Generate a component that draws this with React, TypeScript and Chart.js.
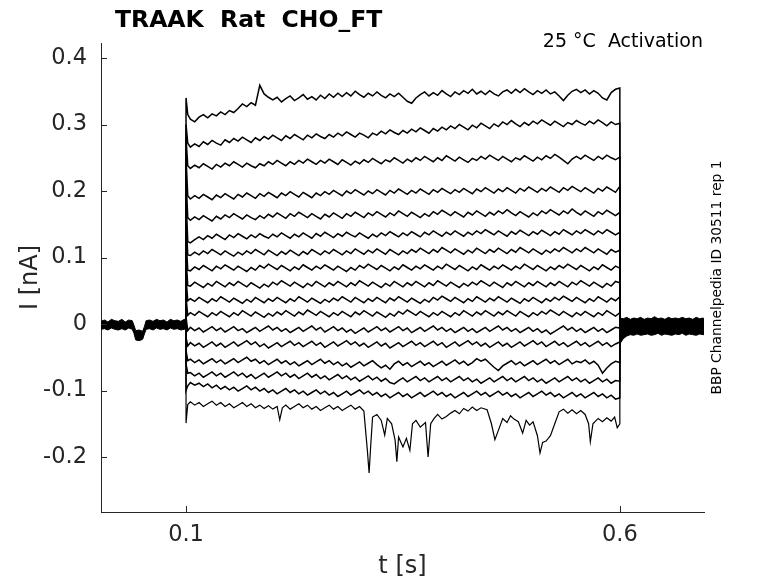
import { useEffect, useRef } from "react";
import { Chart, registerables } from "chart.js";

Chart.register(...registerables);

const FONT = '"DejaVu Sans", "Liberation Sans", sans-serif';

// ---- axis ticks ----
const xTickValues = [0.1, 0.6];
const yTickValues = [-0.2, -0.1, 0, 0.1, 0.2, 0.3, 0.4];

// ---- time base of the voltage step (s): onset, 0.102, then 0.105 ... 0.6 ----
const pulseTimes = [
  0.1, 0.102,
  0.105, 0.11, 0.115, 0.12, 0.125, 0.13, 0.135, 0.14, 0.145, 0.15,
  0.155, 0.16, 0.165, 0.17, 0.175, 0.18, 0.185, 0.19, 0.195, 0.2,
  0.205, 0.21, 0.215, 0.22, 0.225, 0.23, 0.235, 0.24, 0.245, 0.25,
  0.255, 0.26, 0.265, 0.27, 0.275, 0.28, 0.285, 0.29, 0.295, 0.3,
  0.305, 0.31, 0.315, 0.32, 0.325, 0.33, 0.335, 0.34, 0.345, 0.35,
  0.355, 0.36, 0.365, 0.37, 0.375, 0.38, 0.385, 0.39, 0.395, 0.4,
  0.405, 0.41, 0.415, 0.42, 0.425, 0.43, 0.435, 0.44, 0.445, 0.45,
  0.455, 0.46, 0.465, 0.47, 0.475, 0.48, 0.485, 0.49, 0.495, 0.5,
  0.505, 0.51, 0.515, 0.52, 0.525, 0.53, 0.535, 0.54, 0.545, 0.55,
  0.555, 0.56, 0.565, 0.57, 0.575, 0.58, 0.585, 0.59, 0.595, 0.6,
];

// ---- current traces during the step (pA), same layout as pulseTimes ----
const trace01 = [340, 315,
  308, 304, 311, 315, 310, 316, 313, 319, 315, 321,
  318, 324, 331, 327, 333, 329, 359, 346, 341, 337,
  341, 334, 339, 343, 336, 340, 345, 338, 342, 337,
  344, 339, 346, 341, 347, 342, 348, 343, 350, 345,
  341, 347, 343, 349, 344, 340, 346, 342, 347, 341,
  335, 332, 340, 345, 349, 343, 348, 344, 351, 346,
  342, 349, 345, 351, 347, 353, 346, 350, 345, 351,
  346, 343, 349, 352, 347, 353, 348, 354, 349, 345,
  351, 347, 352, 346, 349, 343, 336, 344, 350, 353,
  348, 352, 346, 351, 347, 340, 337, 348, 353, 355];
const trace02 = [300, 272,
  266, 271, 267, 274, 270, 276, 272, 269, 277, 273,
  279, 275, 281, 277, 273, 280, 276, 282, 278, 284,
  280, 276, 283, 279, 285, 281, 277, 284, 280, 286,
  282, 279, 285, 281, 287, 283, 289, 285, 281, 287,
  284, 280, 287, 284, 290, 286, 292, 288, 285, 291,
  287, 293, 289, 295, 291, 287, 294, 290, 296, 292,
  298, 294, 300, 296, 292, 299, 295, 302, 298, 294,
  301, 297, 304, 300, 306, 301, 297, 303, 299, 305,
  301, 307, 303, 299, 305, 301, 297, 303, 300, 306,
  302, 299, 305, 301, 307, 303, 298, 304, 300, 302];
const trace03 = [280, 238,
  234, 239, 235, 241, 237, 233, 240, 236, 242, 238,
  244, 240, 236, 242, 238, 235, 241, 238, 244, 240,
  246, 242, 238, 244, 240, 246, 242, 248, 244, 240,
  246, 242, 248, 244, 240, 247, 243, 239, 245, 241,
  247, 243, 249, 245, 241, 247, 244, 250, 246, 242,
  248, 244, 250, 246, 252, 248, 244, 250, 246, 253,
  249, 245, 251, 247, 243, 249, 246, 252, 248, 254,
  250, 246, 252, 248, 244, 250, 247, 253, 249, 245,
  251, 247, 253, 249, 255, 251, 246, 241, 248, 252,
  248, 254, 250, 246, 252, 248, 254, 250, 247, 251];
const trace04 = [250, 193,
  188, 193, 189, 195, 191, 187, 194, 190, 196, 192,
  188, 195, 191, 197, 193, 189, 196, 192, 198, 194,
  190, 197, 193, 199, 195, 191, 198, 194, 190, 197,
  193, 199, 195, 201, 197, 193, 200, 196, 202, 198,
  194, 200, 196, 202, 198, 194, 201, 197, 203, 199,
  195, 201, 197, 203, 199, 195, 202, 198, 204, 200,
  196, 202, 198, 204, 200, 196, 203, 199, 205, 201,
  197, 203, 199, 205, 201, 197, 204, 200, 206, 202,
  198, 204, 200, 206, 202, 198, 205, 201, 207, 203,
  199, 205, 201, 197, 204, 200, 206, 202, 198, 207];
const trace05 = [220, 160,
  156, 161, 157, 163, 159, 155, 162, 158, 164, 160,
  166, 162, 158, 164, 160, 157, 163, 159, 165, 161,
  167, 163, 159, 166, 162, 168, 164, 160, 166, 162,
  158, 165, 161, 167, 163, 159, 166, 162, 168, 164,
  160, 167, 163, 169, 165, 161, 167, 163, 170, 166,
  162, 168, 164, 160, 166, 162, 169, 165, 171, 167,
  163, 169, 165, 161, 168, 164, 170, 166, 162, 168,
  164, 170, 166, 172, 167, 163, 169, 165, 161, 167,
  163, 170, 166, 172, 168, 164, 170, 166, 173, 168,
  164, 170, 166, 162, 169, 165, 171, 167, 163, 168];
const trace06 = [190, 124,
  122, 127, 131, 127, 133, 129, 135, 131, 127, 134,
  130, 136, 132, 128, 134, 130, 136, 132, 129, 135,
  131, 137, 133, 129, 135, 131, 137, 133, 129, 136,
  132, 138, 134, 130, 136, 132, 138, 134, 131, 137,
  133, 129, 135, 131, 137, 133, 139, 135, 131, 137,
  133, 139, 135, 131, 138, 134, 140, 136, 132, 138,
  134, 140, 136, 132, 138, 134, 140, 136, 142, 138,
  134, 140, 136, 132, 139, 135, 141, 137, 133, 139,
  135, 141, 137, 133, 139, 135, 142, 138, 134, 140,
  136, 142, 138, 134, 140, 136, 142, 138, 134, 138];
const trace07 = [160, 104,
  103, 108, 104, 110, 106, 112, 108, 104, 110, 106,
  102, 108, 104, 110, 106, 112, 108, 104, 111, 107,
  103, 109, 105, 111, 107, 103, 109, 105, 112, 108,
  104, 110, 106, 112, 108, 104, 110, 106, 113, 109,
  105, 111, 107, 113, 109, 105, 112, 108, 104, 110,
  106, 112, 108, 114, 110, 106, 112, 108, 115, 111,
  107, 113, 109, 105, 111, 107, 114, 110, 106, 112,
  108, 114, 110, 106, 112, 108, 115, 111, 107, 113,
  109, 105, 111, 107, 113, 109, 115, 111, 107, 113,
  109, 115, 111, 107, 113, 109, 105, 112, 108, 111];
const trace08 = [130, 81,
  80, 86, 82, 88, 84, 80, 87, 83, 89, 85,
  81, 87, 83, 79, 85, 81, 88, 84, 90, 86,
  82, 88, 84, 80, 86, 82, 89, 85, 81, 87,
  83, 89, 85, 81, 87, 83, 79, 85, 81, 88,
  84, 90, 86, 82, 88, 84, 80, 86, 82, 89,
  85, 81, 87, 83, 89, 85, 81, 87, 83, 90,
  86, 82, 88, 84, 80, 86, 82, 89, 85, 81,
  87, 83, 89, 85, 81, 87, 83, 90, 86, 82,
  88, 84, 80, 86, 82, 88, 84, 90, 86, 82,
  88, 84, 80, 86, 82, 89, 85, 81, 87, 84];
const trace09 = [100, 58,
  57, 63, 59, 55, 61, 57, 64, 60, 56, 62,
  58, 64, 60, 56, 62, 58, 54, 60, 56, 63,
  59, 65, 61, 57, 63, 59, 55, 61, 57, 64,
  60, 56, 62, 58, 64, 60, 56, 62, 58, 65,
  61, 57, 63, 59, 55, 61, 57, 64, 60, 56,
  62, 58, 64, 60, 56, 62, 58, 65, 61, 57,
  63, 59, 55, 61, 57, 63, 59, 65, 61, 57,
  63, 59, 55, 62, 58, 64, 60, 56, 62, 58,
  64, 60, 56, 62, 58, 64, 60, 56, 63, 59,
  65, 61, 57, 63, 59, 55, 61, 57, 64, 62];
const trace10 = [70, 35,
  38, 34, 40, 36, 32, 38, 34, 41, 37, 33,
  39, 35, 31, 37, 33, 40, 36, 32, 38, 34,
  40, 36, 32, 38, 34, 41, 37, 33, 39, 35,
  31, 37, 33, 39, 35, 41, 37, 33, 40, 36,
  32, 38, 34, 40, 36, 32, 39, 35, 41, 37,
  33, 39, 35, 31, 37, 33, 40, 36, 42, 38,
  34, 40, 36, 32, 38, 34, 41, 37, 33, 39,
  35, 41, 37, 33, 39, 35, 31, 38, 34, 40,
  36, 32, 38, 34, 40, 36, 42, 38, 34, 40,
  36, 32, 38, 34, 41, 37, 33, 39, 35, 41];
const trace11 = [40, 13,
  17, 13, 19, 15, 11, 17, 13, 19, 15, 11,
  17, 13, 20, 16, 12, 18, 14, 10, 16, 12,
  18, 14, 20, 16, 12, 18, 14, 21, 17, 13,
  19, 15, 11, 17, 13, 19, 15, 11, 18, 14,
  20, 16, 12, 18, 14, 10, 16, 12, 19, 15,
  21, 17, 13, 19, 15, 11, 17, 13, 19, 15,
  11, 17, 13, 20, 16, 12, 18, 14, 20, 16,
  12, 18, 14, 20, 16, 12, 19, 15, 11, 17,
  13, 19, 15, 21, 17, 13, 19, 15, 11, 17,
  13, 19, 15, 11, 17, 13, 20, 16, 12, 17];
const trace12 = [10, -10,
  -5, -10, -6, -12, -8, -4, -10, -6, -12, -8,
  -4, -10, -7, -13, -9, -5, -11, -7, -3, -9,
  -5, -11, -7, -13, -9, -5, -11, -7, -3, -9,
  -5, -12, -8, -4, -10, -6, -12, -8, -14, -10,
  -6, -12, -8, -4, -10, -6, -12, -8, -4, -10,
  -6, -13, -9, -5, -11, -7, -3, -9, -5, -11,
  -7, -13, -9, -5, -11, -7, -13, -9, -5, -11,
  -7, -3, -9, -5, -11, -7, -13, -9, -5, -11,
  -7, -13, -9, -15, -11, -7, -3, -9, -5, -11,
  -7, -13, -9, -5, -11, -7, -13, -9, -5, -6];
const trace13 = [-20, -33,
  -28, -33, -29, -35, -31, -27, -33, -29, -35, -31,
  -27, -33, -29, -25, -31, -27, -34, -30, -36, -32,
  -28, -34, -30, -26, -32, -28, -34, -30, -26, -32,
  -28, -35, -31, -27, -33, -29, -25, -31, -27, -33,
  -29, -35, -31, -27, -33, -29, -36, -32, -28, -34,
  -30, -26, -32, -28, -34, -30, -26, -32, -28, -35,
  -31, -27, -33, -29, -25, -31, -27, -33, -29, -35,
  -31, -27, -33, -29, -35, -31, -27, -33, -29, -25,
  -31, -27, -34, -30, -26, -32, -28, -34, -30, -26,
  -32, -28, -34, -30, -26, -32, -28, -34, -30, -27];
const trace14 = [-40, -55,
  -53, -58, -54, -60, -56, -52, -58, -54, -60, -56,
  -52, -58, -54, -50, -56, -53, -59, -55, -61, -57,
  -53, -59, -55, -61, -57, -63, -59, -55, -61, -57,
  -53, -59, -55, -61, -57, -63, -59, -65, -61, -57,
  -63, -59, -55, -61, -66, -62, -68, -60, -56, -62,
  -58, -64, -60, -56, -62, -58, -64, -60, -56, -62,
  -58, -54, -60, -56, -62, -58, -52, -56, -53, -59,
  -65, -70, -63, -59, -55, -61, -57, -63, -59, -55,
  -61, -57, -53, -59, -55, -61, -57, -53, -60, -56,
  -58, -54, -60, -56, -62, -74, -66, -60, -56, -58];
const trace15 = [-60, -74,
  -73, -78, -74, -80, -76, -72, -78, -74, -80, -76,
  -72, -78, -74, -80, -76, -82, -78, -74, -80, -76,
  -72, -78, -74, -80, -76, -82, -78, -74, -80, -76,
  -82, -78, -84, -80, -76, -82, -78, -84, -80, -86,
  -82, -78, -84, -80, -86, -82, -88, -90, -85, -81,
  -87, -83, -79, -85, -81, -87, -83, -79, -85, -81,
  -87, -83, -79, -85, -81, -87, -83, -89, -85, -81,
  -87, -83, -79, -85, -81, -87, -83, -79, -85, -81,
  -87, -83, -89, -85, -81, -87, -83, -79, -85, -81,
  -87, -83, -89, -85, -81, -87, -83, -89, -85, -86];
const trace16 = [-100, -93,
  -88, -92, -89, -94, -90, -96, -92, -98, -94, -99,
  -95, -101, -97, -93, -99, -95, -101, -97, -103, -99,
  -105, -101, -97, -103, -99, -105, -101, -107, -103, -99,
  -105, -101, -107, -103, -109, -105, -101, -107, -103, -99,
  -105, -101, -107, -103, -109, -105, -111, -107, -103, -109,
  -105, -111, -107, -103, -109, -105, -101, -107, -103, -109,
  -105, -111, -107, -103, -109, -105, -101, -107, -103, -109,
  -105, -101, -107, -103, -109, -105, -111, -107, -103, -109,
  -105, -101, -107, -103, -109, -105, -111, -107, -103, -109,
  -105, -111, -107, -103, -109, -105, -111, -107, -113, -111];

// ---- lowest trace, sampled at its own times to keep its sharp dips (s, pA) ----
const trace17Times = [
  0.1, 0.102, 0.105, 0.11, 0.115, 0.12, 0.125, 0.13, 0.135, 0.14,
  0.145, 0.15, 0.155, 0.16, 0.165, 0.17, 0.175, 0.18, 0.185, 0.19,
  0.195, 0.2, 0.205, 0.208, 0.211, 0.215, 0.22, 0.225, 0.23, 0.235,
  0.24, 0.245, 0.25, 0.255, 0.26, 0.265, 0.27, 0.275, 0.28, 0.285,
  0.29, 0.295, 0.3, 0.305, 0.309, 0.311, 0.313, 0.315, 0.32, 0.325,
  0.329, 0.332, 0.337, 0.341, 0.343, 0.345, 0.35, 0.354, 0.358, 0.361,
  0.365, 0.37, 0.376, 0.379, 0.382, 0.386, 0.39, 0.395, 0.4, 0.405,
  0.41, 0.415, 0.42, 0.425, 0.43, 0.435, 0.44, 0.447, 0.452, 0.456,
  0.46, 0.465, 0.47, 0.474, 0.478, 0.483, 0.488, 0.492, 0.496, 0.5,
  0.505, 0.508, 0.511, 0.515, 0.52, 0.525, 0.53, 0.535, 0.54, 0.545,
  0.55, 0.555, 0.56, 0.564, 0.566, 0.569, 0.575, 0.58, 0.585, 0.59,
  0.594, 0.597, 0.6,
];
const trace17 = [
  -149, -121, -117, -122, -118, -124, -120, -116, -122, -118,
  -124, -120, -126, -122, -118, -124, -120, -126, -122, -127,
  -123, -128, -124, -144, -126, -122, -128, -124, -120, -126,
  -122, -128, -124, -130, -126, -122, -128, -124, -130, -126,
  -122, -128, -124, -131, -190, -224, -180, -140, -136, -145,
  -167, -142, -150, -175, -207, -170, -185, -172, -190, -150,
  -145, -155, -148, -200, -150, -142, -136, -143, -139, -134,
  -130, -135, -127, -131, -125, -130, -126, -129, -150, -174,
  -160, -142, -148, -138, -143, -147, -164, -145, -152, -147,
  -168, -194, -178, -176, -168, -150, -132, -128, -134, -129,
  -135, -130, -136, -150, -177, -150, -142, -147, -141, -146,
  -140, -156, -150,
];

// ---- overlapping holding-current band before and after the step (s, pA) ----
const preTimes = [0.002, 0.006, 0.01, 0.014, 0.018, 0.022, 0.026, 0.03, 0.034, 0.038, 0.04, 0.042, 0.046, 0.05, 0.052, 0.054, 0.058, 0.062, 0.066, 0.07, 0.074, 0.078, 0.082, 0.086, 0.09, 0.094, 0.098, 0.1];
const preUpper = [4, 6, 3, 7, 5, 4, 7, 3, 6, 5, -2, -10, -9, -11, -4, 5, 6, 4, 7, 5, 6, 3, 7, 5, 6, 4, 7, 6];
const preLower = [-8, -7, -9, -6, -8, -9, -7, -9, -6, -8, -14, -24, -25, -23, -15, -8, -7, -9, -6, -8, -7, -9, -6, -8, -7, -9, -8, -8];
const postTimes = [0.6, 0.604, 0.608, 0.612, 0.616, 0.62, 0.624, 0.628, 0.632, 0.636, 0.64, 0.644, 0.648, 0.652, 0.656, 0.66, 0.664, 0.668, 0.672, 0.676, 0.68, 0.684, 0.688, 0.692, 0.696, 0.697];
const postUpper = [9, 8, 10, 7, 9, 8, 10, 7, 9, 8, 11, 8, 9, 7, 10, 8, 9, 8, 10, 8, 9, 7, 10, 8, 9, 8];
const postLower = [-30, -22, -18, -16, -17, -15, -17, -16, -15, -17, -16, -14, -17, -15, -16, -17, -15, -16, -14, -17, -15, -16, -17, -15, -16, -16];

const stepTraces = [trace01, trace02, trace03, trace04, trace05, trace06, trace07, trace08, trace09, trace10, trace11, trace12, trace13, trace14, trace15, trace16];

const toPoints = (ts: number[], vs: number[]) => vs.map((v, i) => ({ x: ts[i], y: v / 1000 }));

const decorPlugin = {
  id: "decor",
  afterDraw(chart: any) {
    const { ctx, chartArea, scales } = chart;
    const x = scales.x;
    const y = scales.y;
    ctx.save();
    // inward tick marks
    ctx.strokeStyle = "#262626";
    ctx.lineWidth = 1;
    ctx.beginPath();
    xTickValues.forEach((v) => {
      const px = Math.round(x.getPixelForValue(v)) + 0.5;
      ctx.moveTo(px, chartArea.bottom);
      ctx.lineTo(px, chartArea.bottom - 6);
    });
    yTickValues.forEach((v) => {
      const py = Math.round(y.getPixelForValue(v)) + 0.5;
      ctx.moveTo(chartArea.left, py);
      ctx.lineTo(chartArea.left + 6, py);
    });
    ctx.stroke();

    // title
    ctx.fillStyle = "#000";
    ctx.font = `bold 23.5px ${FONT}`;
    ctx.textAlign = "left";
    ctx.textBaseline = "alphabetic";
    ctx.fillText("TRAAK  Rat  CHO_FT", 115, 27);

    // condition
    ctx.font = `19px ${FONT}`;
    ctx.textAlign = "right";
    ctx.fillText("25 °C  Activation", 703, 47);

    // axis labels
    ctx.fillStyle = "#262626";
    ctx.font = `24px ${FONT}`;
    ctx.textAlign = "center";
    ctx.textBaseline = "middle";
    ctx.fillText("t [s]", 402.5, 567);
    ctx.save();
    ctx.translate(31, 277.5);
    ctx.rotate(-Math.PI / 2);
    ctx.fillText("I [nA]", 0, 0);
    ctx.restore();

    // source note
    ctx.fillStyle = "#000";
    ctx.font = `13.8px ${FONT}`;
    ctx.save();
    ctx.translate(717, 277.5);
    ctx.rotate(-Math.PI / 2);
    ctx.fillText("BBP Channelpedia ID 30511 rep 1", 0, 0);
    ctx.restore();
    ctx.restore();
  },
};

export default function App() {
  const ref = useRef<HTMLCanvasElement>(null);
  useEffect(() => {
    if (!ref.current) return;
    const line = { borderColor: "#000", borderWidth: 1.5, fill: false, pointRadius: 0 };
    const datasets: any[] = [
      { ...line, borderWidth: 1, data: toPoints(preTimes, preUpper) },
      { ...line, borderWidth: 1, data: toPoints(preTimes, preLower), fill: "-1", backgroundColor: "#000" },
      { ...line, borderWidth: 1, data: toPoints(postTimes, postUpper) },
      { ...line, borderWidth: 1, data: toPoints(postTimes, postLower), fill: "-1", backgroundColor: "#000" },
    ];
    stepTraces.forEach((tr) => {
      datasets.push({ ...line, data: [{ x: 0.1, y: 0 }, ...toPoints(pulseTimes, tr), { x: 0.6, y: 0 }] });
    });
    datasets.push({ ...line, borderWidth: 1.2, data: [{ x: 0.1, y: 0 }, ...toPoints(trace17Times, trace17), { x: 0.6, y: 0 }] });

    const chart = new Chart(ref.current, {
      type: "line",
      data: { datasets },
      options: {
        animation: false,
        responsive: false,
        events: [],
        layout: { padding: { left: 0, top: 43, right: 74, bottom: 0 } },
        elements: { point: { radius: 0, hitRadius: 0 }, line: { tension: 0 } },
        plugins: { legend: { display: false }, tooltip: { enabled: false }, title: { display: false } },
        scales: {
          x: {
            type: "linear",
            min: 0.002,
            max: 0.697,
            afterBuildTicks: (s: any) => {
              s.ticks = xTickValues.map((v) => ({ value: v }));
            },
            afterFit: (s: any) => {
              s.height = 71;
            },
            grid: { display: false, drawTicks: false },
            border: { display: true, color: "#262626", width: 1 },
            ticks: {
              color: "#262626",
              font: { family: FONT, size: 22.5 },
              padding: 10,
              maxRotation: 0,
              autoSkip: false,
              callback: (v: any) => String(Math.round(Number(v) * 10) / 10),
            },
          },
          y: {
            type: "linear",
            min: -0.2827,
            max: 0.4226,
            afterBuildTicks: (s: any) => {
              s.ticks = yTickValues.map((v) => ({ value: v }));
            },
            afterFit: (s: any) => {
              s.width = 101;
            },
            grid: { display: false, drawTicks: false },
            border: { display: true, color: "#262626", width: 1 },
            ticks: {
              color: "#262626",
              font: { family: FONT, size: 22.5 },
              padding: 14,
              autoSkip: false,
              callback: (v: any) => String(Math.round(Number(v) * 10) / 10),
            },
          },
        },
      },
      plugins: [decorPlugin],
    } as any);
    return () => chart.destroy();
  }, []);

  return (
    <div style={{ position: "absolute", left: 0, top: 0, width: 778, height: 583, background: "#fff" }}>
      <canvas ref={ref} width={778} height={583} style={{ display: "block" }} />
    </div>
  );
}
